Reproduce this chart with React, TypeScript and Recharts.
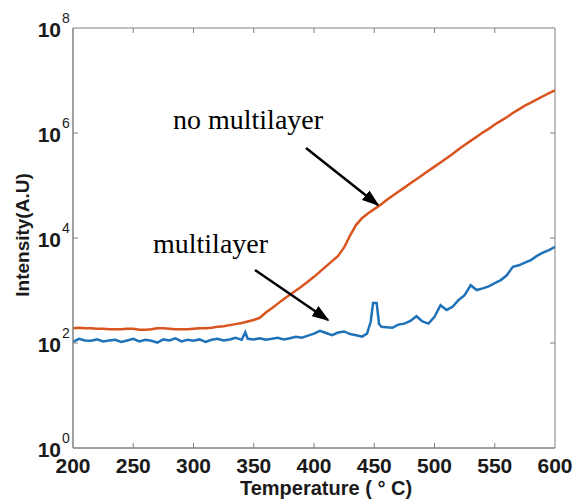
import { LineChart, Line, XAxis, YAxis, ReferenceArea } from "recharts"

document.body.style.margin = "0"

/* ---------- data ---------- */

const xTicks = [200, 250, 300, 350, 400, 450, 500, 550, 600]
const yTicks = [1, 1e2, 1e4, 1e6, 1e8]

// no multilayer (orange)
const noMlTemps = [
  200, 205, 210, 215, 220, 225, 230, 235, 240, 245, 250, 255, 260, 265, 270, 275, 280, 285, 290, 295,
  300, 305, 310, 315, 320, 325, 330, 335, 340, 345, 350, 355, 360, 365, 370, 375, 380, 385, 390, 395,
  400, 405, 410, 415, 420, 425, 430, 435, 440, 445, 450, 455, 460, 465, 470, 475, 480, 485, 490, 495,
  500, 505, 510, 515, 520, 525, 530, 535, 540, 545, 550, 555, 560, 565, 570, 575, 580, 585, 590, 595, 600,
]
const noMlIntensity = [
  191, 195, 191, 191, 186, 186, 182, 182, 182, 186, 186, 178, 178, 182, 191, 191, 186, 182, 182, 182,
  186, 191, 191, 195, 204, 209, 219, 229, 240, 257, 275, 302, 380, 457, 562, 692, 832, 1000, 1200, 1480,
  1820, 2290, 2880, 3630, 4570, 6610, 11200, 17800, 24000, 29500, 35500, 42700, 52500, 63100, 75900, 91200, 110000, 132000, 158000, 191000,
  229000, 275000, 331000, 398000, 490000, 589000, 708000, 851000, 1020000, 1200000, 1450000, 1700000, 2000000, 2400000, 2820000, 3310000, 3800000, 4370000, 5010000, 5750000, 6460000,
]

// multilayer (blue)
const mlTemps = [
  200, 205, 210, 215, 220, 225, 230, 235, 240, 245, 250, 255, 260, 265, 270, 275, 280, 285, 290, 295,
  300, 305, 310, 315, 320, 325, 330, 335, 340, 343, 345, 350, 355, 360, 365, 370, 375, 380, 385, 390, 395,
  400, 405, 410, 415, 420, 425, 430, 435, 440, 444, 447, 449, 452, 454, 456, 460, 465, 470, 475, 480, 485, 490, 495,
  500, 505, 510, 515, 520, 525, 530, 535, 540, 545, 550, 555, 560, 565, 570, 575, 580, 585, 590, 595, 600,
]
const mlIntensity = [
  105, 120, 112, 110, 117, 107, 112, 115, 105, 112, 120, 107, 115, 110, 102, 117, 112, 123, 107, 115,
  110, 117, 105, 115, 120, 112, 117, 126, 115, 160, 120, 117, 123, 115, 120, 126, 117, 123, 132, 126, 138,
  151, 170, 155, 141, 158, 166, 148, 141, 132, 151, 251, 575, 575, 230, 204, 200, 195, 224, 234, 263, 324, 257, 234,
  316, 525, 427, 490, 661, 813, 1260, 1020, 1100, 1200, 1380, 1580, 1950, 2820, 3020, 3390, 3800, 4570, 5250, 5890, 6760,
]

const noMlData = noMlTemps.map((t, i) => ({ t, v: noMlIntensity[i] }))
const mlData = mlTemps.map((t, i) => ({ t, v: mlIntensity[i] }))

/* ---------- layout ---------- */

const W = 575
const H = 500
const PLOT_TOP = 28
const PLOT_BOTTOM = 448
const PLOT_LEFT = 73
const PLOT_RIGHT = 555
const AXIS = "#808080"
const INK = "#1a1a1a"
const SANS = "'Liberation Sans', Arial, sans-serif"
const SERIF = "'Liberation Serif', 'Times New Roman', serif"

function XTick({ x, payload }: { x?: number; payload?: { value: number } }) {
  const v = payload?.value ?? 0
  const inner = v !== 200 && v !== 600
  return (
    <g>
      {inner && <line x1={x} x2={x} y1={PLOT_BOTTOM} y2={PLOT_BOTTOM - 5} stroke={AXIS} />}
      {inner && <line x1={x} x2={x} y1={PLOT_TOP} y2={PLOT_TOP + 5} stroke={AXIS} />}
      <text x={x} y={PLOT_BOTTOM + 25} textAnchor="middle" fontFamily={SANS} fontWeight="bold" fontSize={21} fill={INK}>
        {v}
      </text>
    </g>
  )
}

function YTick({ y, payload }: { y?: number; payload?: { value: number } }) {
  const v = payload?.value ?? 1
  const exp = Math.round(Math.log10(v))
  const inner = v !== 1 && v !== 1e8
  const yy = y ?? 0
  return (
    <g>
      {inner && <line x1={PLOT_LEFT} x2={PLOT_LEFT + 5} y1={yy} y2={yy} stroke={AXIS} />}
      {inner && <line x1={PLOT_RIGHT} x2={PLOT_RIGHT - 5} y1={yy} y2={yy} stroke={AXIS} />}
      <text x={61} y={yy + 9} textAnchor="end" fontFamily={SANS} fontWeight="bold" fontSize={21} fill={INK}>
        10
      </text>
      <text x={62} y={yy - 5} fontFamily={SANS} fontSize={14} fill={INK}>
        {exp}
      </text>
    </g>
  )
}

function Annotations() {
  return (
    <svg width={W} height={H} style={{ position: "absolute", left: 0, top: 0, pointerEvents: "none" }}>
      <defs>
        <marker id="head" viewBox="0 0 10 7" refX="9" refY="3.5" markerWidth="7" markerHeight="4.9" orient="auto" markerUnits="strokeWidth">
          <path d="M0,0 L10,3.5 L0,7 z" fill="#000" />
        </marker>
      </defs>
      <text x={173} y={129} fontFamily={SERIF} fontSize={28} fill="#000">no multilayer</text>
      <line x1={306} y1={148} x2={378} y2={205} stroke="#000" strokeWidth={2.5} markerEnd="url(#head)" />
      <text x={153} y={253} fontFamily={SERIF} fontSize={28} fill="#000">multilayer</text>
      <line x1={255} y1={270} x2={328} y2={320} stroke="#000" strokeWidth={2.5} markerEnd="url(#head)" />
      <text x={326} y={495} textAnchor="middle" fontFamily={SANS} fontWeight="bold" fontSize={20} fill={INK}>
        Temperature ( ° C)
      </text>
      <text
        x={0}
        y={0}
        transform="translate(29,235) rotate(-90)"
        textAnchor="middle"
        fontFamily={SANS}
        fontWeight="bold"
        fontSize={19}
        fill={INK}
      >
        Intensity(A.U)
      </text>
    </svg>
  )
}

export default function App() {
  return (
    <div style={{ position: "relative", width: W, height: H, background: "#fff" }}>
      <LineChart width={W} height={H} margin={{ top: PLOT_TOP, right: W - PLOT_RIGHT, left: 0, bottom: 0 }}>
        <XAxis
          dataKey="t"
          type="number"
          domain={[200, 600]}
          ticks={xTicks}
          allowDataOverflow
          height={H - PLOT_BOTTOM}
          tickLine={false}
          axisLine={{ stroke: AXIS }}
          tick={<XTick />}
          interval={0}
        />
        <YAxis
          dataKey="v"
          type="number"
          scale="log"
          domain={[1, 1e8]}
          ticks={yTicks}
          allowDataOverflow
          width={PLOT_LEFT}
          tickLine={false}
          axisLine={{ stroke: AXIS }}
          tick={<YTick />}
          interval={0}
        />
        <ReferenceArea x1={200} x2={600} y1={1} y2={1e8} fill="none" stroke={AXIS} strokeOpacity={1} />
        <Line data={noMlData} dataKey="v" stroke="#D9541E" strokeWidth={2.5} dot={false} isAnimationActive={false} />
        <Line data={mlData} dataKey="v" stroke="#1F72B8" strokeWidth={2.5} dot={false} isAnimationActive={false} />
      </LineChart>
      <Annotations />
    </div>
  )
}
